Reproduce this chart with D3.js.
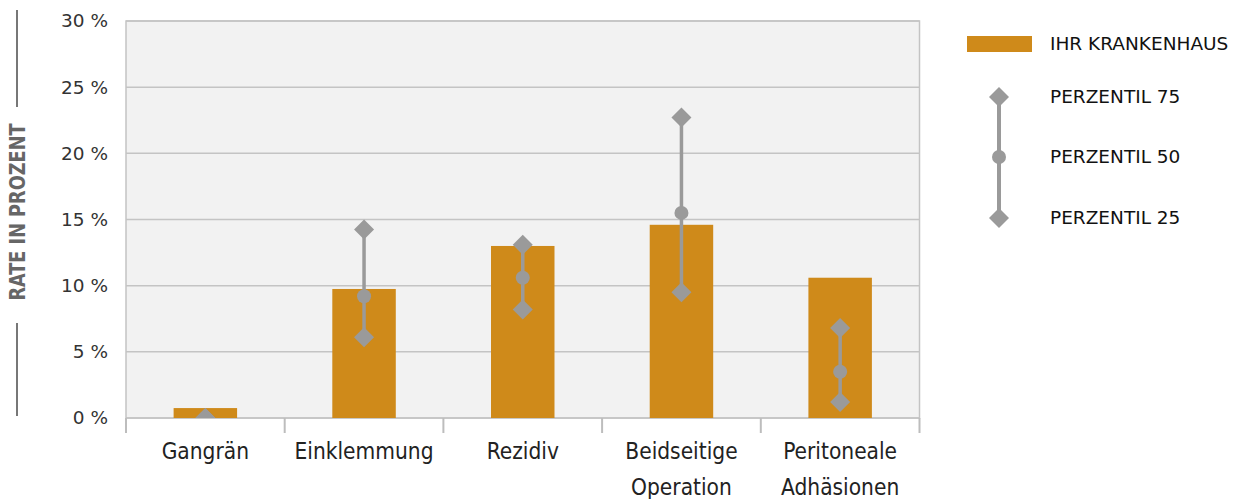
<!DOCTYPE html>
<html><head><meta charset="utf-8">
<script src="https://cdn.jsdelivr.net/npm/d3@7"></script>
<style>body{margin:0;background:#fff;}</style>
</head><body>
<svg id="c" width="1238" height="499"></svg>
<script>
const categories = [["Gangrän"], ["Einklemmung"], ["Rezidiv"], ["Beidseitige", "Operation"], ["Peritoneale", "Adhäsionen"]];
const hospital = [0.75, 9.75, 13.0, 14.6, 10.6];
const p75 = [0, 14.25, 13.1, 22.7, 6.8];
const p50 = [0, 9.2, 10.6, 15.5, 3.5];
const p25 = [0, 6.1, 8.2, 9.5, 1.2];
const yTicks = [0, 5, 10, 15, 20, 25, 30];
const legendLabels = ["IHR KRANKENHAUS", "PERZENTIL 75", "PERZENTIL 50", "PERZENTIL 25"];
const yTitle = "RATE IN PROZENT";

const barColor = "#cf8a1a", markColor = "#9a9a9a", gridColor = "#c4c4c4";
const svg = d3.select("#c");
const L = 126, R = 919.5, T = 21, B = 418;
const ids = categories.map((d, i) => i);
const x = d3.scaleBand().domain(ids).range([L, R]).paddingInner(0.6).paddingOuter(0.3);
const xb = d3.scaleBand().domain(ids).range([L, R]);
const y = d3.scaleLinear().domain([0, 30]).range([B, T]);

svg.append("rect").attr("x", L).attr("y", T).attr("width", R - L).attr("height", B - T).attr("fill", "#f2f2f2");

svg.append("clipPath").attr("id", "pc").append("rect").attr("x", L).attr("y", T - 20).attr("width", R - L).attr("height", B - T + 20);

svg.append("g").selectAll("line").data(yTicks).join("line")
  .attr("x1", L).attr("x2", R).attr("y1", d => y(d)).attr("y2", d => y(d))
  .attr("stroke", gridColor).attr("stroke-width", 1.5);

svg.append("rect").attr("x", L).attr("y", T).attr("width", R - L).attr("height", B - T)
  .attr("fill", "none").attr("stroke", gridColor).attr("stroke-width", 1.5);

// y labels
svg.append("g").selectAll("text").data(yTicks).join("text")
  .attr("x", 108).attr("y", d => y(d)).attr("dy", "0.35em").attr("text-anchor", "end")
  .attr("font-family", "DejaVu Sans").attr("font-size", 18.5).attr("fill", "#333")
  .text(d => d + " %");

// x axis ticks
const tickPos = ids.map(i => xb(i)).concat([R]);
svg.append("g").selectAll("line").data(tickPos).join("line")
  .attr("x1", d => d).attr("x2", d => d).attr("y1", B).attr("y2", B + 15)
  .attr("stroke", "#bdbdbd").attr("stroke-width", 2);

// bars
const g = svg.append("g").attr("clip-path", "url(#pc)");
g.selectAll("rect.bar").data(hospital).join("rect").attr("class", "bar")
  .attr("x", (d, i) => x(i)).attr("width", x.bandwidth())
  .attr("y", d => y(d)).attr("height", d => B - y(d)).attr("fill", barColor);

const cx = i => x(i) + x.bandwidth() / 2;
const diamond = d3.symbol().type(d3.symbolSquare).size(200);
g.selectAll("line.rng").data(ids).join("line").attr("class", "rng")
  .attr("x1", cx).attr("x2", cx).attr("y1", i => y(p75[i])).attr("y2", i => y(p25[i]))
  .attr("stroke", markColor).attr("stroke-width", 3.5);
[p75, p25].forEach(arr => {
  g.append("g").selectAll("path").data(ids).join("path")
    .attr("d", diamond).attr("fill", markColor)
    .attr("transform", i => `translate(${cx(i)},${y(arr[i])}) rotate(45)`);
});
g.append("g").selectAll("circle").data(ids).join("circle")
  .attr("cx", cx).attr("cy", i => y(p50[i])).attr("r", 7).attr("fill", markColor);

// x labels
const xl = svg.append("g").selectAll("text").data(ids).join("text")
  .attr("x", i => xb(i) + xb.bandwidth() / 2).attr("y", 459).attr("text-anchor", "middle")
  .attr("font-family", "DejaVu Sans Condensed, DejaVu Sans").attr("font-stretch", "condensed")
  .attr("font-size", 22.5).attr("fill", "#222");
xl.selectAll("tspan").data(i => categories[i].map(t => ({ t, i }))).join("tspan")
  .attr("x", d => xb(d.i) + xb.bandwidth() / 2).attr("dy", (d, k) => k === 0 ? 0 : 36).text(d => d.t);

// y title
const ty = 212, tx = 17;
svg.append("text").attr("transform", `translate(${tx + 8},${ty}) rotate(-90)`)
  .attr("text-anchor", "middle").attr("font-family", "DejaVu Sans Condensed, DejaVu Sans")
  .attr("font-stretch", "condensed")
  .attr("font-weight", "bold").attr("font-size", 22).attr("fill", "#666")
  .attr("textLength", 177).attr("lengthAdjust", "spacingAndGlyphs").text(yTitle);
svg.append("line").attr("x1", tx).attr("x2", tx).attr("y1", 10).attr("y2", 107).attr("stroke", "#777").attr("stroke-width", 2);
svg.append("line").attr("x1", tx).attr("x2", tx).attr("y1", 323).attr("y2", 416).attr("stroke", "#777").attr("stroke-width", 2);

// legend
const lg = svg.append("g");
lg.append("rect").attr("x", 967).attr("y", 36).attr("width", 65).attr("height", 16).attr("fill", barColor);
const ly = [44, 97, 157, 218];
lg.append("line").attr("x1", 999).attr("x2", 999).attr("y1", ly[1]).attr("y2", ly[3]).attr("stroke", markColor).attr("stroke-width", 4);
lg.append("path").attr("d", diamond).attr("fill", markColor).attr("transform", `translate(999,${ly[1]}) rotate(45)`);
lg.append("path").attr("d", diamond).attr("fill", markColor).attr("transform", `translate(999,${ly[3]}) rotate(45)`);
lg.append("circle").attr("cx", 999).attr("cy", ly[2]).attr("r", 7).attr("fill", markColor);
lg.selectAll("text").data(legendLabels).join("text")
  .attr("x", 1050).attr("y", (d, i) => ly[i]).attr("dy", "0.35em")
  .attr("font-family", "DejaVu Sans").attr("font-size", 18.5).attr("fill", "#111").text(d => d);
</script>
</body></html>
